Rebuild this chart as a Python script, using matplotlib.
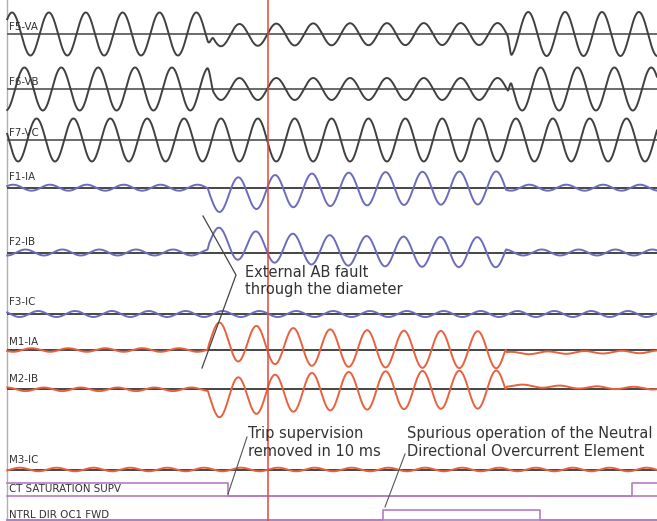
import numpy as np
import matplotlib
matplotlib.use("Agg")
import matplotlib.pyplot as plt

# ---------------- data ----------------
CYCLE_MS = 16.667            # 60 Hz power system
T_START, T_END = -90.3, 203.4
CURSOR_MS = 27.7

analog_labels = ["F5-VA", "F6-VB", "F7-VC", "F1-IA", "F2-IB", "F3-IC",
                 "M1-IA", "M2-IB", "M3-IC"]
analog_kind = ["v", "v", "v", "f", "f", "f", "m", "m", "m"]

# fault inception / clearing as seen on each channel (ms)
fault_on = [0.0, 0.0, 0.0, 0.0, 0.0, 0.0, 0.0, 0.0, 0.0]
fault_off = [135.8, 135.8, 135.8, 134.6, 134.6, 134.6, 134.6, 134.6, 134.6]

# pre-fault (load): amplitude and time of a positive peak (ms)
pre_amp = [21.5, 21.5, 21.5, 3.0, 3.0, 3.0, 1.8, 1.8, 1.8]
pre_peak = [-4.8, 0.8, 6.3, -4.3, 1.3, 7.0, 4.0, 9.6, -1.3]
# during the external AB fault
fault_amp = [11.0, 11.0, 21.5, 16.5, 15.0, 3.0, 18.5, 19.0, 1.8]
fault_peak = [-2.0, -2.0, 6.3, -2.6, 5.5, 7.0, 5.7, -2.6, -1.3]
fault_dc = [-1.5, 0.0, 0.0, -9.2, 11.5, 0.0, 10.5, -10.5, 0.0]
fault_tau = [35, 35, 35, 35, 35, 35, 35, 35, 35]
# after the fault is cleared
post_amp = [22.0, 21.5, 21.5, 3.0, 3.0, 3.0, 1.3, 1.3, 1.8]
post_peak = [-4.8, 0.8, 6.3, -4.3, 1.3, 7.0, 4.0, 9.6, -1.3]
post_dc = [0.0, 0.0, 0.0, 0.0, 0.0, 0.0, -3.2, 4.0, 0.0]
post_tau = [50, 50, 50, 50, 50, 50, 120, 50, 50]

digital_labels = ["CT SATURATION SUPV", "NTRL DIR OC1 FWD"]
ct_sat_edges = [T_START, 9.3, 192.1, T_END]
ct_sat_states = [1, 0, 1]
ntrl_edges = [T_START, 79.7, 150.5, T_END]
ntrl_states = [0, 1, 0]

notes = ["External AB fault\nthrough the diameter",
         "Trip supervision\nremoved in 10 ms",
         "Spurious operation of the Neutral\nDirectional Overcurrent Element"]

# ---------------- layout (pixel rows) ----------------
W, H = 657, 521
MS_PER_PX = 0.452
X_FAULT_PX = 207.0
def px2ms(x):
    return (x - X_FAULT_PX) * MS_PER_PX

baseline_px = [34, 89, 140, 187.7, 252.5, 314, 350, 389.3, 469.5]
label_px = [26.7, 81.7, 133.3, 176.7, 241.7, 301.7, 342, 379.3, 460]
dig_low_px = [495.5, 519.8]
dig_high_px = [483.3, 510.0]
dig_label_px = [489.5, 514.5]
blend_on = {"v": 3.0, "f": 1.0, "m": 1.0}
blend_off = {"v": 2.0, "f": 1.0, "m": 1.0}

colors = {"v": "#404040", "f": "#6c6cbc", "m": "#e8623f"}
base_colors = {"v": "#6a6a6a", "f": "#454545", "m": "#454545"}
DIG_COLOR = "#b67ac8"
TEXT_COLOR = "#333333"

fig = plt.figure(figsize=(W / 100, H / 100), dpi=100)
ax = fig.add_axes([0, 0, 1, 1])
ax.set_xlim(px2ms(0), px2ms(W))
ax.set_ylim(H, 0)
ax.axis("off")

t = np.arange(T_START, T_END, 0.05)

def smooth(tt, t0, d):
    s = np.clip((tt - t0) / d, 0, 1)
    return s * s * (3 - 2 * s)

for i, lab in enumerate(analog_labels):
    kind = analog_kind[i]
    w_on = smooth(t, fault_on[i], blend_on[kind])
    w_off = smooth(t, fault_off[i], blend_off[kind])
    pre = pre_amp[i] * np.cos(2 * np.pi * (t - pre_peak[i]) / CYCLE_MS)
    flt = fault_amp[i] * np.cos(2 * np.pi * (t - fault_peak[i]) / CYCLE_MS)
    flt = flt + fault_dc[i] * np.exp(-np.clip(t - fault_on[i], 0, None) / fault_tau[i])
    post = post_amp[i] * np.cos(2 * np.pi * (t - post_peak[i]) / CYCLE_MS)
    post = post + post_dc[i] * np.exp(-np.clip(t - fault_off[i], 0, None) / post_tau[i])
    sig = pre * (1 - w_on) + flt * w_on * (1 - w_off) + post * w_off
    b = baseline_px[i]
    ax.plot([T_START, px2ms(W)], [b, b], color=base_colors[kind], lw=1.4, zorder=2,
            solid_capstyle="butt")
    ax.plot(t, b - sig, color=colors[kind], lw=1.4, zorder=3)
    ax.text(px2ms(9), label_px[i], lab, fontsize=7.4, color=TEXT_COLOR,
            va="center", ha="left", zorder=4, family="DejaVu Sans")

# digital channels
for edges, states, lo, hi, lab, ly in [
        (ct_sat_edges, ct_sat_states, dig_low_px[0], dig_high_px[0], digital_labels[0], dig_label_px[0]),
        (ntrl_edges, ntrl_states, dig_low_px[1], dig_high_px[1], digital_labels[1], dig_label_px[1])]:
    xs, ys = [], []
    for k, st in enumerate(states):
        y = hi if st else lo
        xs += [edges[k], edges[k + 1]]
        ys += [y, y]
    ax.plot(xs, ys, color=DIG_COLOR, lw=1.2, zorder=3)
    ax.plot([T_START, px2ms(W)], [lo, lo], color=DIG_COLOR, lw=1.2, zorder=3)
    ax.text(px2ms(9), ly, lab, fontsize=7.4, color=TEXT_COLOR,
            va="center", ha="left", zorder=4, family="DejaVu Sans")

# left border and cursor
ax.plot([T_START, T_START], [0, H], color="#b0b0b0", lw=1.0, zorder=1)
ax.plot([CURSOR_MS, CURSOR_MS], [0, H], color="#e0483a", lw=1.1, zorder=5)

# annotations
ax.plot([px2ms(203), px2ms(236), px2ms(202)], [216, 275, 368],
        color="#444444", lw=0.9, zorder=6)
ax.text(px2ms(245), 281, notes[0], fontsize=10.5, color=TEXT_COLOR,
        va="center", ha="left", zorder=6, linespacing=1.2)
ax.plot([px2ms(247), px2ms(228)], [437, 494], color="#555555", lw=0.8, zorder=6)
ax.text(px2ms(248), 442.5, notes[1], fontsize=10.5, color=TEXT_COLOR,
        va="center", ha="left", zorder=6, linespacing=1.2)
ax.plot([px2ms(405), px2ms(385)], [454, 507], color="#555555", lw=0.8, zorder=6)
ax.text(px2ms(407), 442.5, notes[2], fontsize=10.5, color=TEXT_COLOR,
        va="center", ha="left", zorder=6, linespacing=1.2)

fig.savefig("out.png", dpi=100, facecolor="white")
